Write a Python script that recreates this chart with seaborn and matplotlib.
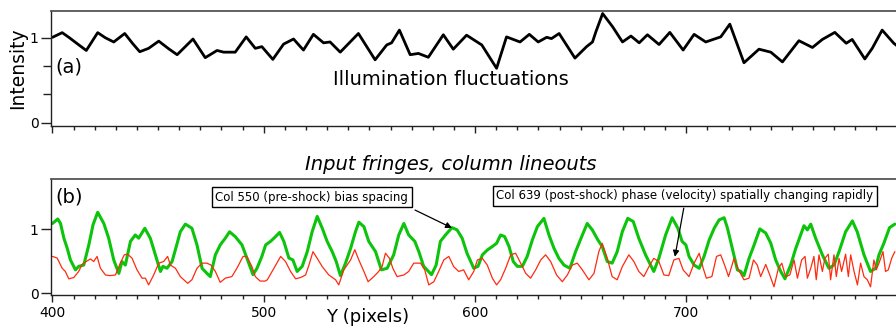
import matplotlib
matplotlib.use("Agg")
import matplotlib.pyplot as plt
import seaborn as sns
import pandas as pd
from matplotlib.ticker import MultipleLocator, FixedLocator

# ---------------- data ----------------
ill_x = [400, 404.6, 408, 411.7, 416, 421.4, 425, 429, 434.2, 438,
         441.3, 445.5, 450.3, 455, 459, 466.5, 472.3, 477.9, 481, 486.5,
         491.7, 496, 499.1, 504.3, 509.4, 514.1, 517.3, 518.8, 523.5, 528.3,
         531.4, 536.2, 544.8, 552.7, 558.2, 560.5, 564.2, 569.3, 573.2, 577.9,
         585, 589.7, 596, 603.2, 610.2, 614.9, 621.3, 625.7, 629.9, 633.9,
         636.2, 639.8, 647.3, 652.8, 655.6, 657.2, 660.4, 665.1, 669.8, 673.8,
         677.7, 681.6, 687.1, 692.2, 698.5, 703.7, 709.2, 713.9, 716.3, 720.6,
         727.3, 734.4, 740, 745.5, 753.3, 759.7, 764.4, 770.3, 775.7, 778.5,
         784.5, 788, 792.7, 798.2, 800]
ill_y = [1.005, 1.06, 1.0, 0.93, 0.85, 1.06, 1.0, 0.95, 1.05, 0.93,
         0.835, 0.875, 0.96, 0.87, 0.80, 0.985, 0.765, 0.85, 0.83, 0.83,
         1.01, 0.875, 0.895, 0.745, 0.925, 0.985, 0.895, 0.855, 1.04, 0.94,
         0.95, 0.83, 1.05, 0.74, 0.915, 0.94, 1.09, 0.80, 0.815, 0.77,
         1.035, 0.865, 1.03, 0.915, 0.64, 1.01, 0.95, 1.04, 0.95, 1.005,
         0.99, 1.05, 0.76, 0.895, 0.95, 1.07, 1.285, 1.13, 0.95, 1.02,
         0.94, 1.035, 0.92, 1.063, 0.855, 1.04, 0.95, 0.99, 1.01, 1.16,
         0.705, 0.865, 0.83, 0.715, 0.965, 0.885, 0.98, 1.063, 0.935, 0.98,
         0.75, 0.875, 1.09, 0.935, 0.9]

col550_x = [400, 402.5, 403.8, 405.4, 407, 408.5, 410.9, 412.4, 414.8, 417.2,
            419.2, 421.4, 424.3, 426.6, 429, 431.4, 432.9, 434.5, 436.9, 439.2,
            440.8, 443.7, 446.3, 448.7, 451.1, 452.3, 454.2, 456.6, 458.6, 460.5,
            462.9, 466, 468.4, 470.8, 473.1, 474.7, 477.1, 479.4, 481.8, 483.8,
            486.5, 489.7, 492, 494.9, 496.8, 499.1,
            500.9, 503.2, 505.6, 507.5, 509.5, 511.9, 513.8, 515.8, 518.2, 520.6,
            522.9, 525.3, 527.7, 530, 532.4, 534.3, 536.3, 538.7, 541.1, 543.4,
            545, 547.4, 549.7, 552.9, 555.7, 558.4, 561.5, 563.9, 566.3, 568.6,
            571.5, 573.4, 575.7, 579.4, 581.6, 583.6, 586, 589.1, 591.5, 593.9,
            596.2, 599.4,
            601.4, 603.5, 605.8, 608.2, 610.2, 612.1, 614, 616.1, 618.1, 620,
            622.4, 624.7, 627.1, 629.5, 632.6, 635, 637.4, 639.7, 642.1, 644.9,
            647.6, 650.8, 653.1, 655.5, 658.2, 660.2, 662.6, 664.9, 667.3, 669.7,
            672.3, 674.9, 677.5, 680.7, 683.1, 684.6, 687, 690.2, 693.3, 696, 698,
            699.8, 701.3, 703.7, 706.1, 708.4, 710.8, 713.2, 715.5, 717.9, 719.5,
            721.8, 724.2, 725.8, 727.3, 729.7, 732.1, 734.8, 737.6, 740, 742.3,
            744.7, 746.7, 749.4, 751.8, 754.1, 755.7, 757.3, 758.9, 761.2, 764.4,
            767.5, 769.9, 772.3, 775.4, 778.6, 780.9, 784.1, 787.2, 789.6, 791.2,
            793.5, 796.2, 798.7]
col550_y = [1.09, 1.16, 1.09, 0.86, 0.70, 0.52, 0.365, 0.42, 0.44, 0.755,
            1.07, 1.265, 1.09, 0.86, 0.52, 0.31, 0.495, 0.44, 0.81, 0.91,
            0.86, 1.015, 0.86, 0.60, 0.34, 0.42, 0.39, 0.495, 0.73, 0.96,
            1.08, 1.015, 0.755, 0.39, 0.31, 0.26, 0.60, 0.755, 0.86, 0.96,
            0.885, 0.755, 0.55, 0.29, 0.39, 0.575,
            0.755, 0.81, 0.885, 0.95, 0.81, 0.55, 0.52, 0.34, 0.42, 0.65,
            0.96, 1.20, 1.015, 0.81, 0.65, 0.495, 0.275, 0.47, 0.70, 0.96,
            1.11, 1.04, 0.81, 0.65, 0.365, 0.39, 0.60, 0.91, 1.09, 0.91,
            0.81, 0.65, 0.42, 0.29, 0.44, 0.81, 0.91, 1.025, 0.99, 0.86,
            0.625, 0.39,
            0.42, 0.60, 0.675, 0.73, 0.78, 0.91, 0.885, 0.73, 0.495, 0.42,
            0.42, 0.575, 0.83, 1.04, 1.17, 0.91, 0.70, 0.545, 0.44, 0.39,
            0.65, 0.91, 1.09, 0.99, 0.83, 0.73, 0.495, 0.47, 0.65, 0.96,
            1.17, 1.12, 0.86, 0.60, 0.44, 0.34, 0.545, 0.91, 1.18, 1.015, 0.81,
            0.755, 0.575, 0.44, 0.39, 0.575, 0.83, 1.015, 1.145, 1.18, 1.015,
            0.70, 0.365, 0.34, 0.275, 0.545, 0.755, 1.005, 0.94, 0.78, 0.52,
            0.34, 0.225, 0.44, 0.70, 0.91, 1.055, 0.99, 1.08, 0.86, 0.60,
            0.39, 0.44, 0.65, 0.96, 1.13, 0.96, 0.60, 0.34, 0.39, 0.60,
            0.78, 1.025, 1.08]

col639_x = [400, 402.2, 404.6, 406.1, 407.7, 410.1, 412.4, 414, 416.4, 418,
            419.5, 421.1, 422.7, 425.1, 427.1, 429.8, 432.1, 434, 435.6, 437.7,
            440, 442.4, 444, 445.5, 447.9, 450.3, 452.6, 454.5, 455.8, 458.2,
            460.5, 464, 466, 468.4, 470.8, 473.1, 475, 477.1, 479.4, 481.8,
            484.9, 487.3, 490.2, 492, 494.4, 496, 498.3, 500.7,
            501.7, 504.8, 508, 510.3, 512.7, 515.1, 517.4, 519.8, 521.4, 523.3,
            525.3, 527.7, 530.8, 534, 535.5, 537.9, 541.1, 543.1, 545, 547.4,
            549.4, 552.1, 554.4, 556, 557.6, 559.5, 561.1, 563.1, 566.3, 568.6,
            571, 574.2, 576.2, 578.1, 580.5, 582.8, 585.2, 587.6, 589.9, 592.3,
            594.6, 597, 599.4,
            601.1, 603.5, 605.8, 608.2, 610.2, 612.1, 614.5, 616.9, 619.2, 621.6,
            624, 626.3, 628.7, 631.1, 633.4, 635.8, 638.6, 641.3, 643.7, 646,
            648.4, 650.8, 653.9, 656.3, 658.6, 660.2, 662.6, 664.9, 667.3, 669.7,
            672.8, 675.2, 677.5, 679.9, 682.3, 684.6, 687, 689.4, 691.7, 694.1,
            696.5, 698.5,
            701.3, 703.7, 706.1, 708, 709.5, 712.1, 714.3, 716.3, 718.4, 720,
            722.6, 724.7, 727.3, 729.7, 731.8, 733.6, 735.2, 737.6, 739.5, 741.5,
            743.6, 745.2, 747, 749, 751, 752.6, 754.6, 756.2, 757.3, 758.9,
            760.4, 761.5, 762.8, 764.4, 765.6, 767.2, 768.3, 769.9, 771, 772.3,
            773.5, 775.4, 776.7, 777.8, 779.4, 781, 782.5, 784.1, 785.7, 787.2,
            788.8, 789.9, 791.2, 793.1, 794.3, 795.6, 797.2, 798.7]
col639_y = [0.575, 0.55, 0.39, 0.34, 0.225, 0.245, 0.34, 0.45, 0.505, 0.535,
            0.495, 0.575, 0.39, 0.285, 0.275, 0.285, 0.47, 0.60, 0.61, 0.545,
            0.365, 0.235, 0.235, 0.13, 0.285, 0.47, 0.495, 0.575, 0.44, 0.39,
            0.26, 0.155, 0.21, 0.39, 0.47, 0.47, 0.44, 0.34, 0.17, 0.235,
            0.26, 0.39, 0.575, 0.575, 0.415, 0.26, 0.19, 0.19,
            0.21, 0.39, 0.575, 0.495, 0.34, 0.225, 0.245, 0.285, 0.44, 0.65,
            0.545, 0.415, 0.285, 0.21, 0.13, 0.365, 0.52, 0.68, 0.52, 0.34,
            0.18, 0.26, 0.34, 0.415, 0.625, 0.545, 0.39, 0.26, 0.285, 0.34,
            0.47, 0.47, 0.365, 0.13, 0.18, 0.34, 0.52, 0.575, 0.415, 0.34,
            0.365, 0.21, 0.34,
            0.52, 0.545, 0.44, 0.235, 0.13, 0.21, 0.39, 0.60, 0.625, 0.47,
            0.31, 0.235, 0.365, 0.52, 0.60, 0.495, 0.285, 0.18, 0.285, 0.44,
            0.47, 0.365, 0.21, 0.31, 0.65, 0.78, 0.545, 0.26, 0.21, 0.415,
            0.60, 0.495, 0.34, 0.26, 0.415, 0.545, 0.495, 0.285, 0.275, 0.52,
            0.545, 0.365,
            0.26, 0.47, 0.625, 0.39, 0.235, 0.26, 0.575, 0.60, 0.415, 0.26,
            0.545, 0.365, 0.21, 0.235, 0.52, 0.44, 0.26, 0.45, 0.285, 0.10,
            0.39, 0.47, 0.26, 0.285, 0.52, 0.235, 0.52, 0.575, 0.235, 0.39,
            0.575, 0.21, 0.60, 0.34, 0.545, 0.61, 0.21, 0.60, 0.26, 0.545,
            0.34, 0.61, 0.26, 0.60, 0.34, 0.13, 0.47, 0.26, 0.21, 0.10,
            0.52, 0.365, 0.47, 0.65, 0.34, 0.365, 0.545, 0.65]

x_major = [400, 500, 600, 700]
label_550 = "Col 550 (pre-shock) bias spacing"
label_639 = "Col 639 (post-shock) phase (velocity) spatially changing rapidly"

# ---------------- style ----------------
sns.set_style("ticks")
plt.rcParams["font.family"] = ["DejaVu Sans"]
plt.rcParams["text.color"] = "black"
plt.rcParams["xtick.color"] = "#222222"
plt.rcParams["ytick.color"] = "#222222"
plt.rcParams["xtick.labelcolor"] = "black"
plt.rcParams["ytick.labelcolor"] = "black"

GREEN = "#0cc40c"
RED = "#ff2a10"

fig = plt.figure(figsize=(8.96, 3.28), dpi=100)
W, H = 896.0, 328.0
ax1 = fig.add_axes([51 / W, 1 - 126 / H, 847 / W, 115 / H])
ax2 = fig.add_axes([51 / W, 1 - 294.5 / H, 847 / W, 115.5 / H])

df_ill = pd.DataFrame({"x": ill_x, "y": ill_y})
df_550 = pd.DataFrame({"x": col550_x, "y": col550_y})
df_639 = pd.DataFrame({"x": col639_x, "y": col639_y})

sns.lineplot(data=df_ill, x="x", y="y", ax=ax1, color="black", linewidth=2.0,
             estimator=None, sort=False, solid_joinstyle="round")
sns.lineplot(data=df_550, x="x", y="y", ax=ax2, color=GREEN, linewidth=2.2,
             estimator=None, sort=False, solid_joinstyle="round")
sns.lineplot(data=df_639, x="x", y="y", ax=ax2, color=RED, linewidth=0.9,
             estimator=None, sort=False)

for ax in (ax1, ax2):
    ax.set_xlim(399.3, 800.2)
    ax.set_xlabel("")
    ax.set_ylabel("")
    ax.spines["right"].set_visible(False)
    ax.spines["top"].set_color("#555555")
    ax.spines["top"].set_linewidth(1.3)
    ax.spines["left"].set_color("#222222")
    ax.spines["bottom"].set_color("#222222")
    ax.spines["left"].set_linewidth(1.0)
    ax.spines["bottom"].set_linewidth(1.0)
    ax.xaxis.set_major_locator(FixedLocator(x_major))
    ax.xaxis.set_minor_locator(MultipleLocator(10))
    ax.tick_params(axis="x", which="major", length=5, width=1.0)
    ax.tick_params(axis="x", which="minor", length=3, width=1.0)
    ax.tick_params(axis="y", which="major", length=7, width=1.0,
                   labelsize=10, pad=2)
    ax.tick_params(axis="y", which="minor", length=6, width=1.0)

ax1.set_ylim(-0.04, 1.315)
ax1.set_yticks([0, 1])
ax1.set_yticklabels(["0", "1"])
ax1.yaxis.set_minor_locator(FixedLocator([1 / 3, 2 / 3]))
ax1.tick_params(axis="x", which="both", labelbottom=False)

ax2.set_ylim(-0.02, 1.785)
ax2.set_yticks([0, 1])
ax2.set_yticklabels(["0", "1"])
ax2.set_xticks(x_major)
ax2.set_xticklabels([str(v) for v in x_major])
ax2.tick_params(axis="x", which="major", labelsize=10, pad=3)

# texts
ax1.text(401.4, 0.655, "(a)", fontsize=14, ha="left", va="center")
ax1.text(588.7, 0.51, "Illumination fluctuations", fontsize=14, ha="center", va="center")
ax2.text(401.4, 1.50, "(b)", fontsize=14, ha="left", va="center")

fig.text(18 / W, 1 - 68 / H, "Intensity", rotation=90, fontsize=13.5,
         ha="center", va="center")
fig.text(451 / W, 1 - 165 / H, "Input fringes, column lineouts", fontsize=14,
         style="italic", ha="center", va="center")
fig.text(368 / W, 1 - 317 / H, "Y (pixels)", fontsize=13, ha="center", va="center")

box = dict(boxstyle="square,pad=0.3", fc="white", ec="black", lw=1.0)
ax2.text(477.0, 1.50, label_550, fontsize=8.5, ha="left", va="center", bbox=box)
ax2.text(610.0, 1.52, label_639, fontsize=8.5, ha="left", va="center", bbox=box)

arrow = dict(arrowstyle="-|>", color="black", lw=0.9, mutation_scale=9,
             shrinkA=0, shrinkB=0)
ax2.annotate("", xy=(589.1, 1.02), xytext=(571.6, 1.30), arrowprops=arrow)
ax2.annotate("", xy=(694.6, 0.57), xytext=(698.8, 1.33), arrowprops=arrow)

fig.savefig("out.png", dpi=100)
